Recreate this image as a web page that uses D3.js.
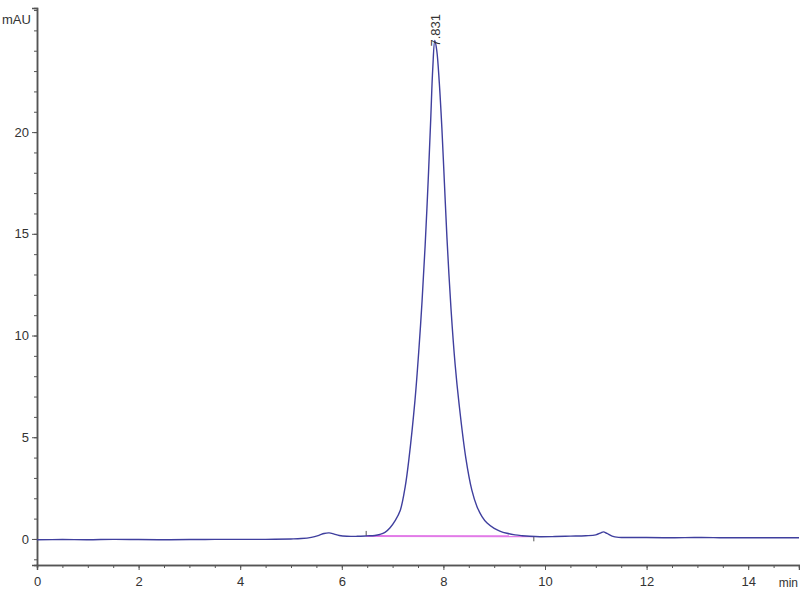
<!DOCTYPE html>
<meta charset="utf-8">
<script src="https://d3js.org/d3.v7.min.js"></script>
<style>
  body { margin: 0; background: #fff; }
  text { font-family: "Liberation Sans Narrow", "Arial Narrow", "Liberation Sans", Arial, sans-serif; fill: #333; }
</style>
<div id="my_dataviz"></div>
<script>

// retention time (min) and absorbance (mAU)
var times = [0, 0.5, 1, 1.5, 2, 2.5, 3, 3.5, 4, 4.5, 5, 5.2, 5.4, 5.55, 5.65, 5.75, 5.85, 5.95, 6.1, 6.3,
  6.5, 6.65, 6.75, 6.85, 6.95, 7.05, 7.15, 7.25, 7.32, 7.44, 7.52, 7.58, 7.64, 7.70, 7.75, 7.79, 7.831,
  7.87, 7.92, 7.97, 8.02, 8.07, 8.15, 8.23, 8.31, 8.44, 8.56, 8.66, 8.76, 8.86, 9.0, 9.11, 9.25, 9.41,
  9.55, 9.7, 9.9, 10.2, 10.5, 10.8, 11.0, 11.1, 11.15, 11.22, 11.32, 11.45, 11.7, 12, 12.5, 13, 13.5,
  14, 14.5, 15];
var signal = [-0.04, -0.03, -0.04, -0.02, -0.03, -0.04, -0.03, -0.02, -0.02, -0.02, 0.0, 0.02, 0.08, 0.18, 0.27, 0.3, 0.24, 0.17, 0.13, 0.13,
  0.15, 0.17, 0.22, 0.32, 0.55, 0.9, 1.4, 2.6, 3.9, 6.8, 9.4, 11.7, 14.4, 17.6, 20.6, 23.1, 24.5,
  24.0, 22.4, 20.2, 17.5, 14.8, 11.3, 8.6, 6.6, 4.0, 2.4, 1.6, 1.1, 0.78, 0.52, 0.39, 0.28, 0.2,
  0.16, 0.13, 0.11, 0.12, 0.14, 0.16, 0.2, 0.3, 0.35, 0.27, 0.14, 0.08, 0.07, 0.07, 0.06, 0.07, 0.06,
  0.06, 0.06, 0.06];

// integration baseline of the main peak
var baseT = [6.48, 9.78];
var baseV = [0.15, 0.13];

var peakLabel = "7.831";
var peakTime = 7.831, peakHeight = 24.5;

var xTicks = [0, 2, 4, 6, 8, 10, 12, 14];
var yTicks = [0, 5, 10, 15, 20];

var width = 800, height = 600;
var margin = {left: 37, right: 1, top: 8, bottom: 35};

var svg = d3.select("#my_dataviz")
  .append("svg")
    .attr("width", width)
    .attr("height", height);

var x = d3.scaleLinear()
  .domain([0, 15])
  .range([margin.left, width - margin.right]);

var y = d3.scaleLinear()
  .domain([-1.28, 26.1])
  .range([height - margin.bottom, margin.top]);

var axisColor = "#555";

// x axis: major ticks every 2 min, minor every 0.5
var xAxis = svg.append("g")
  .attr("transform", "translate(0," + y(-1.28) + ")")
  .call(d3.axisBottom(x).tickValues(d3.range(0, 15.01, 0.5)).tickSize(3).tickFormat(""));
xAxis.append("g")
  .call(d3.axisBottom(x).tickValues(xTicks).tickSize(5).tickFormat(d3.format("d")));
xAxis.selectAll("path, line").attr("stroke", axisColor);
xAxis.selectAll("path").attr("stroke-width", 1.5);
xAxis.selectAll("text").attr("font-size", 13).attr("dy", "1em").style("fill", "#333");

svg.append("text")
  .attr("x", width - 2)
  .attr("y", y(-1.28) + 22)
  .attr("text-anchor", "end")
  .attr("font-size", 12)
  .text("min");

// y axis: major every 5 mAU, minor every 1
var yAxis = svg.append("g")
  .attr("transform", "translate(" + x(0) + ",0)")
  .call(d3.axisLeft(y).tickValues(d3.range(-1, 26.01, 1)).tickSize(3).tickFormat(""));
yAxis.append("g")
  .call(d3.axisLeft(y).tickValues(yTicks).tickSize(5).tickFormat(d3.format("d")));
yAxis.selectAll("path, line").attr("stroke", axisColor);
yAxis.selectAll("path").attr("stroke-width", 1.5);
yAxis.selectAll("text").attr("font-size", 13).style("fill", "#333");

svg.append("text")
  .attr("x", 2)
  .attr("y", 24)
  .attr("font-size", 13)
  .text("mAU");

// integration baseline (magenta) with start/end marks
svg.append("line")
  .attr("x1", x(baseT[0])).attr("y1", y(baseV[0]))
  .attr("x2", x(baseT[1])).attr("y2", y(baseV[1]))
  .attr("stroke", "#e27be8")
  .attr("stroke-width", 2);
svg.append("line")
  .attr("x1", x(baseT[0])).attr("y1", y(baseV[0]))
  .attr("x2", x(baseT[0])).attr("y2", y(baseV[0]) - 5)
  .attr("stroke", "#555");
svg.append("line")
  .attr("x1", x(baseT[1])).attr("y1", y(baseV[1]))
  .attr("x2", x(baseT[1])).attr("y2", y(baseV[1]) + 5)
  .attr("stroke", "#555");

// chromatogram trace
var pts = times.map(function(t, i){ return [t, signal[i]]; });
var line = d3.line()
  .x(function(d){ return x(d[0]); })
  .y(function(d){ return y(d[1]); })
  .curve(d3.curveCatmullRom.alpha(0.5));

svg.append("path")
  .datum(pts)
  .attr("d", line)
  .attr("fill", "none")
  .attr("stroke", "#3f3f9e")
  .attr("stroke-width", 1.4);

// retention time label, rotated above the apex
svg.append("text")
  .attr("transform", "translate(" + (x(peakTime) + 5) + "," + (y(peakHeight) + 6) + ")rotate(-90)")
  .attr("font-size", 13)
  .text(peakLabel);

</script>
